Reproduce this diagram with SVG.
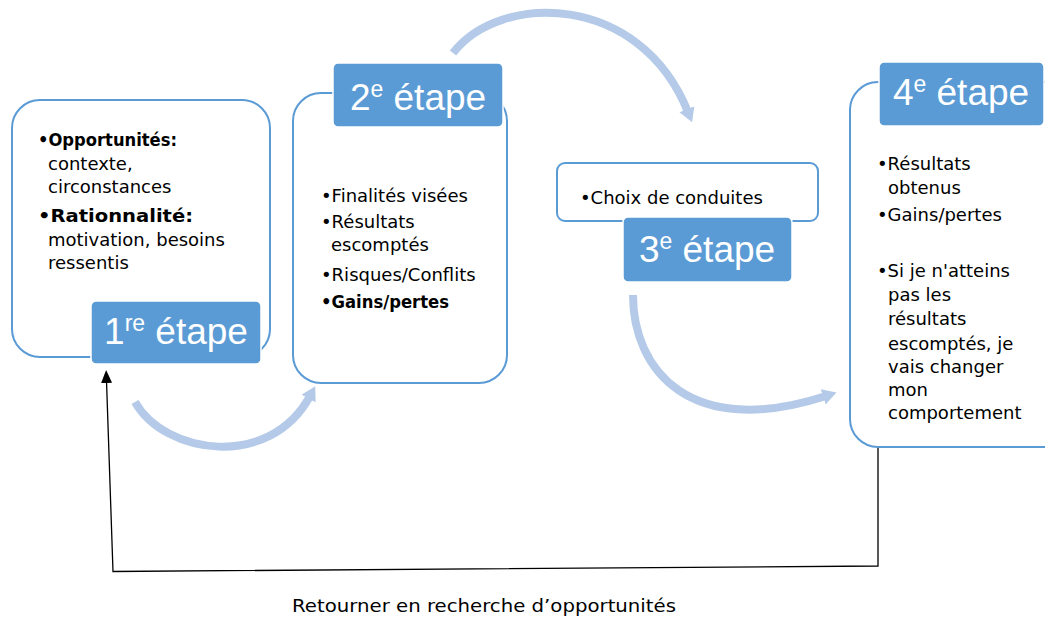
<svg xmlns="http://www.w3.org/2000/svg" width="1045" height="619" viewBox="0 0 1045 619">
<defs>
<style>
.box{fill:#ffffff;stroke:#5b9bd5;stroke-width:2;}
.lab{fill:#5b9bd5;stroke:#ffffff;stroke-width:1.5;}
.labt{font-family:"Liberation Sans",Arial,sans-serif;font-size:37px;fill:#ffffff;}
.t{font-family:"DejaVu Sans","Liberation Sans",sans-serif;font-size:18px;fill:#000000;}
.b{font-weight:bold;}
.flow{fill:none;stroke:#b4cae8;stroke-width:8;}
.ret{fill:none;stroke:#000000;stroke-width:1.3;}
</style>
<marker id="fh" markerUnits="userSpaceOnUse" markerWidth="20" markerHeight="20" refX="3" refY="0" viewBox="0 -10 20 20" orient="auto">
<path d="M0,-8 L14,0 L0,8 z" fill="#b4cae8"/>
</marker>
<marker id="bh" markerUnits="userSpaceOnUse" markerWidth="14" markerHeight="14" refX="2" refY="0" viewBox="0 -7 14 14" orient="auto">
<path d="M0,-5.5 L13,0 L0,5.5 z" fill="#000000"/>
</marker>
</defs>

<g id="connectors">
<path class="flow" d="M135,402 C165,455 270,470 310,396" marker-end="url(#fh)"/>
<path class="flow" d="M453,53 C500,-8 640,-8 688,112" marker-end="url(#fh)"/>
<path class="flow" d="M633,295 C633,370 690,440 826,396" marker-end="url(#fh)"/>
<path class="ret" d="M878,447 L878,566 L113,571.5 L106.5,381" marker-end="url(#bh)"/>
<text class="t" x="292" y="612" font-size="19" textLength="384" lengthAdjust="spacingAndGlyphs">Retourner en recherche d’opportunités</text>
</g>

<g id="step1">
<rect class="box" x="12" y="100" width="258" height="257" rx="28"/>
<text class="t b" x="38" y="146" textLength="139" lengthAdjust="spacingAndGlyphs">•Opportunités:</text>
<text class="t" x="48" y="170">contexte,</text>
<text class="t" x="48" y="193">circonstances</text>
<text class="t b" x="38" y="222" textLength="155" lengthAdjust="spacingAndGlyphs">•Rationnalité:</text>
<text class="t" x="48" y="246">motivation, besoins</text>
<text class="t" x="48" y="269">ressentis</text>
<rect class="lab" x="91" y="301" width="170" height="63" rx="5"/>
<text class="labt" x="176" y="344" text-anchor="middle">1<tspan font-size="23" dy="-13">re</tspan><tspan dy="13"> étape</tspan></text>
</g>

<g id="step2">
<rect class="box" x="293" y="93" width="214" height="290" rx="28"/>
<rect class="lab" x="333" y="63" width="170" height="64" rx="5"/>
<text class="labt" x="418" y="110" text-anchor="middle">2<tspan font-size="23" dy="-13">e</tspan><tspan dy="13"> étape</tspan></text>
<text class="t" x="321" y="202">•Finalités visées</text>
<text class="t" x="321" y="228">•Résultats</text>
<text class="t" x="331" y="251">escomptés</text>
<text class="t" x="321" y="281">•Risques/Conflits</text>
<text class="t b" x="321" y="308" textLength="128" lengthAdjust="spacingAndGlyphs">•Gains/pertes</text>
</g>

<g id="step3">
<rect class="box" x="557" y="163" width="261" height="58" rx="8"/>
<text class="t" x="580" y="204">•Choix de conduites</text>
<rect class="lab" x="623" y="217" width="169" height="65" rx="5"/>
<text class="labt" x="707" y="262" text-anchor="middle">3<tspan font-size="23" dy="-13">e</tspan><tspan dy="13"> étape</tspan></text>
</g>

<g id="step4">
<rect class="box" x="850" y="82" width="240" height="365" rx="28"/>
<rect class="lab" x="879" y="62" width="165" height="64" rx="5"/>
<text class="labt" x="961" y="105" text-anchor="middle">4<tspan font-size="23" dy="-13">e</tspan><tspan dy="13"> étape</tspan></text>
<text class="t" x="877" y="170">•Résultats</text>
<text class="t" x="888" y="194">obtenus</text>
<text class="t" x="877" y="221">•Gains/pertes</text>
<text class="t" x="877" y="277">•Si je n'atteins</text>
<text class="t" x="888" y="301">pas les</text>
<text class="t" x="888" y="325">résultats</text>
<text class="t" x="888" y="350">escomptés, je</text>
<text class="t" x="888" y="373">vais changer</text>
<text class="t" x="888" y="396">mon</text>
<text class="t" x="888" y="419">comportement</text>
</g>
</svg>
